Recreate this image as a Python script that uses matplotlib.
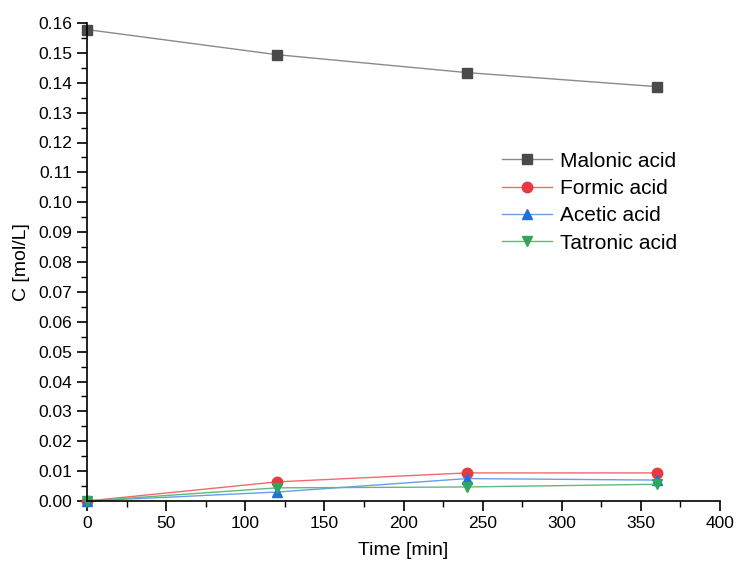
import numpy as np
import matplotlib.pyplot as plt
from matplotlib.ticker import MultipleLocator

plt.rcParams['font.family'] = ['Liberation Sans', 'DejaVu Sans']

time_min = [0, 120, 240, 360]
malonic = [0.1578, 0.1494, 0.1434, 0.1387]
formic = [0.0, 0.0064, 0.0094, 0.0094]
acetic = [0.0, 0.0030, 0.0075, 0.0070]
tatronic = [0.0, 0.0044, 0.0047, 0.0056]

series = [
    ("Malonic acid", malonic, 's', '#4a4a4a', '#8a8a8a'),
    ("Formic acid", formic, 'o', '#e8393f', '#f06a6e'),
    ("Acetic acid", acetic, '^', '#1f6fdc', '#6a9ee8'),
    ("Tatronic acid", tatronic, 'v', '#2fa65c', '#5cbb7e'),
]

fig = plt.figure(figsize=(7.4, 5.69), dpi=100)
ax = fig.add_axes([87 / 740, 1 - 501 / 569, (720 - 87) / 740, (501 - 23) / 569])

for name, vals, mk, mcol, lcol in series:
    ax.plot(time_min, vals, color=lcol, lw=1.0, marker=mk, markersize=7.5,
            markerfacecolor=mcol, markeredgecolor=mcol, label=name, clip_on=False)

ax.set_xlim(0, 400)
ax.set_ylim(0, 0.16)
ax.xaxis.set_major_locator(MultipleLocator(50))
ax.xaxis.set_minor_locator(MultipleLocator(25))
ax.yaxis.set_major_locator(MultipleLocator(0.01))
ax.yaxis.set_minor_locator(MultipleLocator(0.005))
ax.yaxis.set_major_formatter(plt.FuncFormatter(lambda v, p: f"{v:.2f}"))

for side in ('top', 'right'):
    ax.spines[side].set_visible(False)
for side in ('left', 'bottom'):
    ax.spines[side].set_linewidth(1.2)
ax.tick_params(which='major', direction='out', length=7, width=1.2, labelsize=12.5)
ax.tick_params(which='minor', direction='out', length=4, width=1.0)

ax.set_xlabel("Time [min]", fontsize=14, labelpad=8)
ax.set_ylabel("C [mol/L]", fontsize=14, labelpad=6)

ax.legend(loc='upper left', bbox_to_anchor=(0.643, 0.748), frameon=False,
          fontsize=15, handlelength=2.4, labelspacing=0.4, handletextpad=0.35,
          borderaxespad=0)

fig.savefig("out.png", dpi=100)
